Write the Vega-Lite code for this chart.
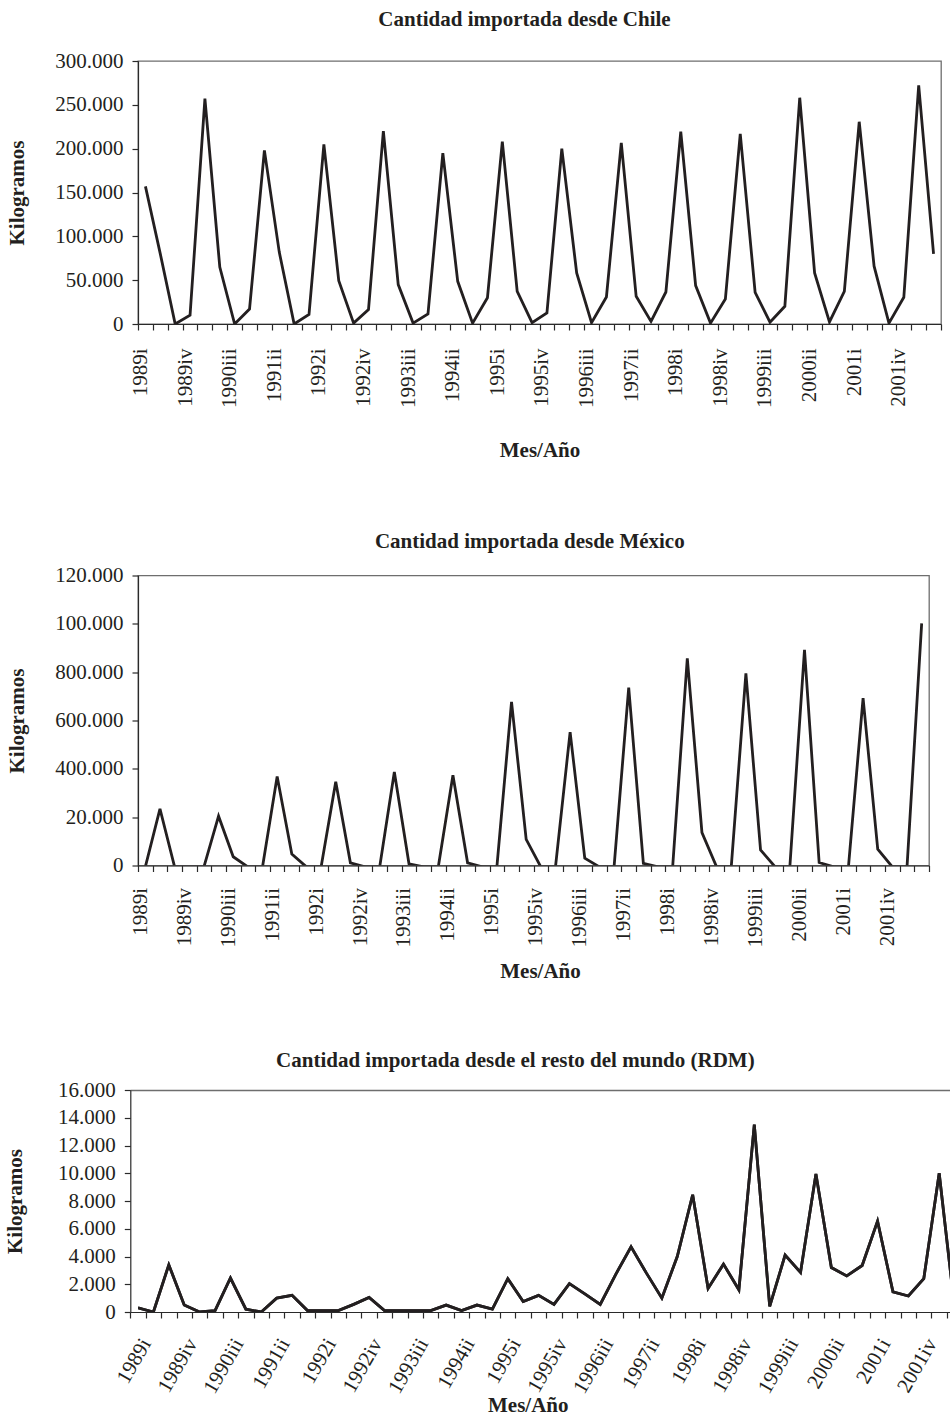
{
  "$schema": "https://vega.github.io/schema/vega-lite/v6.json",
  "background": "white",
  "padding": {"left": 4, "top": 8, "right": -11, "bottom": 0},
  "datasets": {
    "imp": [
      {"q": "1989i", "chile": 157000, "mexico": 0, "rdm": 300},
      {"q": "1989ii", "chile": 80000, "mexico": 240000, "rdm": 0},
      {"q": "1989iii", "chile": 0, "mexico": 0, "rdm": 3400},
      {"q": "1989iv", "chile": 10000, "mexico": 0, "rdm": 500},
      {"q": "1990i", "chile": 257000, "mexico": 0, "rdm": 0},
      {"q": "1990ii", "chile": 65000, "mexico": 210000, "rdm": 100},
      {"q": "1990iii", "chile": 0, "mexico": 42000, "rdm": 2450},
      {"q": "1990iv", "chile": 17000, "mexico": 0, "rdm": 200},
      {"q": "1991i", "chile": 198000, "mexico": 0, "rdm": 0},
      {"q": "1991ii", "chile": 82000, "mexico": 374000, "rdm": 1000},
      {"q": "1991iii", "chile": 0, "mexico": 53000, "rdm": 1200},
      {"q": "1991iv", "chile": 11000, "mexico": 0, "rdm": 100},
      {"q": "1992i", "chile": 205000, "mexico": 0, "rdm": 100},
      {"q": "1992ii", "chile": 49500, "mexico": 352000, "rdm": 100},
      {"q": "1992iii", "chile": 1000, "mexico": 17000, "rdm": 550},
      {"q": "1992iv", "chile": 16400, "mexico": 0, "rdm": 1050},
      {"q": "1993i", "chile": 220000, "mexico": 0, "rdm": 100},
      {"q": "1993ii", "chile": 45000, "mexico": 393000, "rdm": 100},
      {"q": "1993iii", "chile": 1000, "mexico": 13000, "rdm": 100},
      {"q": "1993iv", "chile": 11400, "mexico": 0, "rdm": 100},
      {"q": "1994i", "chile": 195000, "mexico": 0, "rdm": 500},
      {"q": "1994ii", "chile": 48700, "mexico": 379000, "rdm": 100},
      {"q": "1994iii", "chile": 1000, "mexico": 17000, "rdm": 500},
      {"q": "1994iv", "chile": 30000, "mexico": 0, "rdm": 200},
      {"q": "1995i", "chile": 208000, "mexico": 0, "rdm": 2400},
      {"q": "1995ii", "chile": 37300, "mexico": 683000, "rdm": 750},
      {"q": "1995iii", "chile": 1500, "mexico": 114000, "rdm": 1200},
      {"q": "1995iv", "chile": 12600, "mexico": 0, "rdm": 550},
      {"q": "1996i", "chile": 200000, "mexico": 0, "rdm": 2050},
      {"q": "1996ii", "chile": 58200, "mexico": 558000, "rdm": 1300},
      {"q": "1996iii", "chile": 1500, "mexico": 36000, "rdm": 550},
      {"q": "1996iv", "chile": 30800, "mexico": 0, "rdm": 2700},
      {"q": "1997i", "chile": 206700, "mexico": 0, "rdm": 4700},
      {"q": "1997ii", "chile": 31600, "mexico": 742000, "rdm": 2800},
      {"q": "1997iii", "chile": 3000, "mexico": 15000, "rdm": 1000},
      {"q": "1997iv", "chile": 36500, "mexico": 0, "rdm": 4000},
      {"q": "1998i", "chile": 219300, "mexico": 0, "rdm": 8450},
      {"q": "1998ii", "chile": 43800, "mexico": 863000, "rdm": 1700},
      {"q": "1998iii", "chile": 1000, "mexico": 142000, "rdm": 3450},
      {"q": "1998iv", "chile": 28600, "mexico": 0, "rdm": 1600},
      {"q": "1999i", "chile": 217000, "mexico": 0, "rdm": 13500},
      {"q": "1999ii", "chile": 36200, "mexico": 801000, "rdm": 400},
      {"q": "1999iii", "chile": 2000, "mexico": 70000, "rdm": 4100},
      {"q": "1999iv", "chile": 20200, "mexico": 0, "rdm": 2850},
      {"q": "2000i", "chile": 258100, "mexico": 0, "rdm": 9950},
      {"q": "2000ii", "chile": 58200, "mexico": 898000, "rdm": 3200},
      {"q": "2000iii", "chile": 2300, "mexico": 18000, "rdm": 2600},
      {"q": "2000iv", "chile": 37300, "mexico": 0, "rdm": 3350},
      {"q": "2001i", "chile": 230700, "mexico": 0, "rdm": 6550},
      {"q": "2001ii", "chile": 65900, "mexico": 698000, "rdm": 1450},
      {"q": "2001iii", "chile": 1000, "mexico": 73000, "rdm": 1150},
      {"q": "2001iv", "chile": 30500, "mexico": 0, "rdm": 2400},
      {"q": "2002i", "chile": 272200, "mexico": 0, "rdm": 10000},
      {"q": "2002ii", "chile": 79900, "mexico": 1008000, "rdm": 300}
    ]
  },
  "data": {"name": "imp"},
  "columns": 1,
  "align": "none",
  "spacing": 67.5,
  "concat": [
    {
      "title": {"text": "Cantidad importada desde Chile", "offset": 20, "dx": -15},
      "width": 803,
      "height": 263,
      "mark": {"type": "line", "clip": true, "stroke": "#231f20", "strokeWidth": 2.8, "strokeJoin": "miter"},
      "encoding": {
        "x": {
          "field": "q", "type": "ordinal", "sort": null, "bandPosition": 0.5,
          "scale": {"type": "band", "paddingInner": 0, "paddingOuter": 0},
          "axis": {
            "title": "Mes/Año", "labelAngle": -90, "tickBand": "extent", "tickSize": 6,
            "labelPadding": 18, "labelOffset": -5, "titlePadding": 32, "labelOverlap": false, "zindex": 1,
            "labelExpr": "indexof(['1989i','1989iv','1990iii','1991ii','1992i','1992iv','1993iii','1994ii','1995i','1995iv','1996iii','1997ii','1998i','1998iv','1999iii','2000ii','2001i','2001iv'], datum.value) >= 0 ? datum.value : ''"
          }
        },
        "y": {
          "field": "chile", "type": "quantitative",
          "scale": {"domain": [0, 300000], "nice": false},
          "axis": {"title": "Kilogramos", "values": [0, 50000, 100000, 150000, 200000, 250000, 300000], "format": ",d", "tickSize": 6, "labelPadding": 9, "titlePadding": 27.5, "zindex": 1}
        }
      }
    },
    {
      "title": {"text": "Cantidad importada desde México", "offset": 12.6, "dx": -3.7},
      "width": 791,
      "height": 290,
      "mark": {"type": "line", "clip": true, "stroke": "#231f20", "strokeWidth": 2.8, "strokeJoin": "miter", "yOffset": 1.4},
      "encoding": {
        "x": {
          "field": "q", "type": "ordinal", "sort": null, "bandPosition": 0.5,
          "scale": {"type": "band", "paddingInner": 0, "paddingOuter": 0},
          "axis": {
            "title": "Mes/Año", "labelAngle": -90, "tickBand": "extent", "tickSize": 6,
            "labelPadding": 16, "labelOffset": -5, "titlePadding": 13, "titleX": 402, "labelOverlap": false, "zindex": 1,
            "labelExpr": "indexof(['1989i','1989iv','1990iii','1991ii','1992i','1992iv','1993iii','1994ii','1995i','1995iv','1996iii','1997ii','1998i','1998iv','1999iii','2000ii','2001i','2001iv'], datum.value) >= 0 ? datum.value : ''"
          }
        },
        "y": {
          "field": "mexico", "type": "quantitative",
          "scale": {"domain": [0, 1200000], "nice": false},
          "axis": {
            "title": "Kilogramos", "values": [0, 200000, 400000, 600000, 800000, 1000000, 1200000], "format": ",d",
            "labelExpr": "datum.value == 1200000 ? '120.000' : datum.value == 1000000 ? '100.000' : datum.value == 200000 ? '20.000' : datum.label",
            "tickSize": 6, "labelPadding": 9, "titlePadding": 27.5, "zindex": 1
          }
        }
      }
    },
    {
      "title": {"text": "Cantidad importada desde el resto del mundo (RDM)", "offset": 7.7, "dx": -34.8},
      "width": 824.3,
      "height": 222,
      "view": {"stroke": null},
      "resolve": {"axis": {"x": "independent", "y": "independent"}},
      "layer": [
        {
          "mark": {"type": "line", "clip": true, "stroke": "#231f20", "strokeWidth": 2.8, "strokeJoin": "miter"},
          "encoding": {
            "x": {
              "field": "q", "type": "ordinal", "sort": null, "bandPosition": 0.5,
              "scale": {"type": "band", "paddingInner": 0, "paddingOuter": 0, "range": [-7.7, 824.3]},
              "axis": {
                "title": "Mes/Año", "labelAngle": -60, "tickBand": "extent", "tickSize": 6,
                "labelPadding": 22, "labelOffset": 8, "titlePadding": -2, "titleX": 389.8, "labelOverlap": false, "zindex": 1,
                "labelExpr": "indexof(['1989i','1989iv','1990iii','1991ii','1992i','1992iv','1993iii','1994ii','1995i','1995iv','1996iii','1997ii','1998i','1998iv','1999iii','2000ii','2001i','2001iv'], datum.value) >= 0 ? datum.value : ''"
              }
            },
            "y": {
              "field": "rdm", "type": "quantitative",
              "scale": {"domain": [0, 16000], "nice": false},
              "axis": {"title": "Kilogramos", "values": [0, 2000, 4000, 6000, 8000, 10000, 12000, 14000, 16000], "format": ",d", "offset": 7.7, "tickSize": 6, "labelPadding": 9, "titlePadding": 31.6, "zindex": 1}
            }
          }
        },
        {
          "mark": {"type": "line", "clip": true, "stroke": "#231f20", "strokeWidth": 2.8, "strokeJoin": "miter"},
          "encoding": {
            "x": {
              "field": "q", "type": "ordinal", "sort": null, "bandPosition": 0.5,
              "axis": {"orient": "top", "title": null, "labels": false, "ticks": false, "domainColor": "#6e6e6e", "domainWidth": 1.3}
            },
            "y": {"field": "rdm", "type": "quantitative", "axis": null}
          }
        }
      ]
    }
  ],
  "config": {
    "font": "Liberation Serif",
    "locale": {"number": {"decimal": ",", "thousands": ".", "grouping": [3], "currency": ["", " €"]}},
    "view": {"stroke": "#6e6e6e", "strokeWidth": 1.3},
    "axis": {
      "grid": false,
      "domainColor": "#2a2a2a", "domainWidth": 1.2,
      "tickColor": "#2a2a2a", "tickWidth": 1.2,
      "labelFont": "Liberation Serif", "labelFontSize": 21, "labelColor": "#231f20",
      "titleFont": "Liberation Serif", "titleFontSize": 21, "titleFontWeight": "bold", "titleColor": "#231f20"
    },
    "title": {"font": "Liberation Serif", "fontSize": 21, "fontWeight": "bold", "color": "#231f20", "anchor": "middle", "baseline": "alphabetic"}
  }
}
